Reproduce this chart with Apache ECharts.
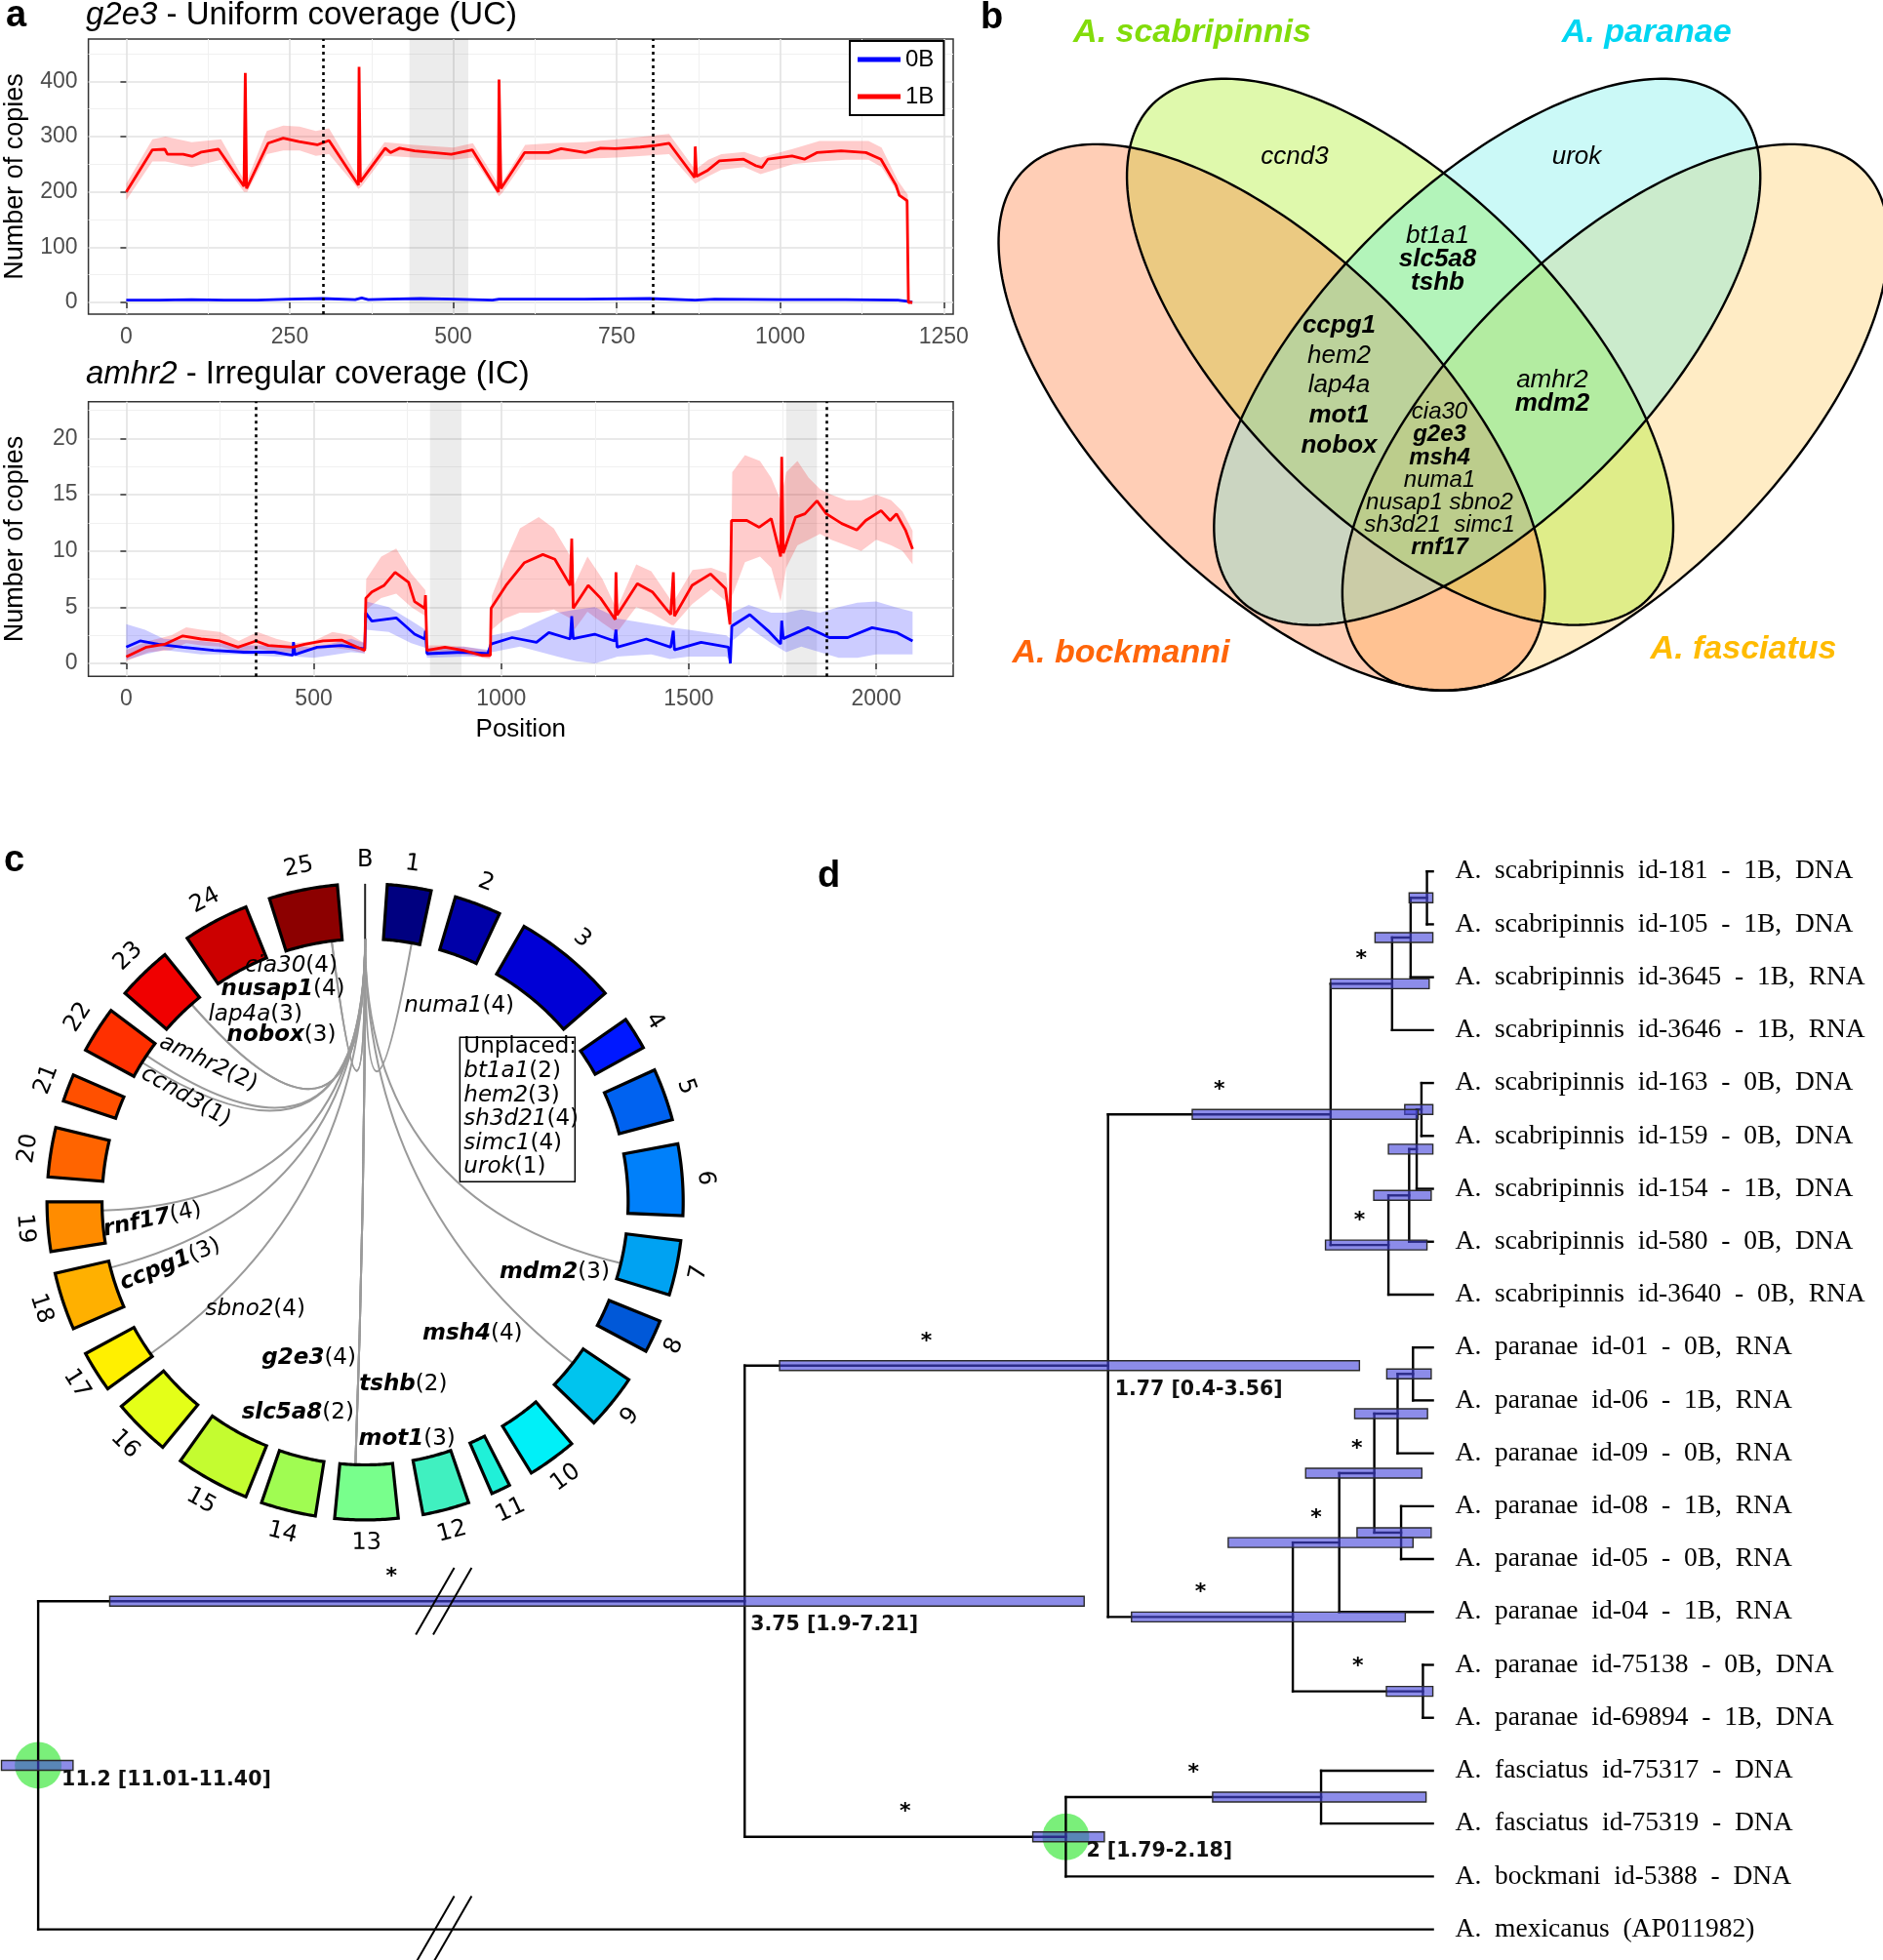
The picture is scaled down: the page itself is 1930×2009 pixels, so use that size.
<!DOCTYPE html>
<html><head><meta charset="utf-8">
<script src="https://cdn.jsdelivr.net/npm/echarts@6/dist/echarts.min.js"></script>
<style>html,body{margin:0;padding:0;background:#fff}#chart{width:1930px;height:2009px}</style>
</head><body><div id="chart"></div>
<script>
// ===================== DATA =====================
// ---- panel a (top): g2e3 coverage
const topTitleGene = 'g2e3', topTitleRest = ' - Uniform coverage (UC)';
const topXTicks = [0, 250, 500, 750, 1000, 1250];
const topYTicks = [0, 100, 200, 300, 400];
const topDotted = [301, 806];
const topShade = [[433, 523]];
const top0B = [[0,4],[50,4],[100,5],[150,4],[200,4],[250,6],[300,7],[350,5],[360,8],[370,5],[400,6],[450,7],[500,6],[560,4],[570,6],[600,6],[700,6],[800,7],[870,4],[900,6],[1000,5],[1100,5],[1180,4],[1195,2],[1202,0]];
const top1B = [[0,200],[40,276],[59,277],[63,268],[87,268],[101,264],[115,272],[141,277],[180,210],[182,415],[184,206],[217,288],[240,297],[264,291],[292,285],[310,293],[355,212],[356,426],[358,218],[396,279],[404,271],[418,279],[441,274],[497,268],[529,276],[569,200],[570,403],[573,206],[609,271],[646,271],[665,278],[702,271],[725,279],[748,278],[786,281],[809,284],[830,288],[869,226],[870,282],[872,228],[888,238],[907,256],[944,259],[963,247],[972,244],[981,259],[1018,265],[1037,259],[1056,271],[1093,274],[1131,271],[1154,259],[1177,212],[1182,194],[1194,184],[1196,0],[1202,0]];
const topBandX  = [0,40,60,100,145,180,185,215,240,265,290,310,355,360,395,440,500,530,570,575,610,650,700,750,790,830,870,890,910,945,970,1020,1060,1100,1135,1155,1180,1195];
const topBandLo = [185,255,255,245,258,200,200,268,275,275,265,268,205,210,265,262,258,262,192,198,258,258,260,262,265,268,215,228,240,245,232,250,255,258,258,245,198,175];
const topBandHi = [215,295,300,290,295,222,222,310,320,318,310,315,225,232,290,285,280,288,212,218,285,288,290,295,300,305,240,258,268,272,262,278,292,292,292,280,220,195];

// ---- panel a (bottom): amhr2 coverage
const botTitleGene = 'amhr2', botTitleRest = ' - Irregular coverage (IC)';
const botXTicks = [0, 500, 1000, 1500, 2000];
const botYTicks = [0, 5, 10, 15, 20];
const botDotted = [346, 1868];
const botShade = [[810, 894], [1760, 1842]];
const bot1B = [[0,0.58],[54,1.45],[102,1.7],[151,2.45],[200,2.17],[249,2.0],[298,1.45],[346,2.0],[379,1.6],[444,1.45],[476,1.7],[525,2.0],[574,2.08],[615,1.45],[636,1.16],[639,5.8],[655,6.36],[688,6.94],[717,8.1],[753,7.2],[769,5.5],[796,4.9],[798,6.07],[802,1.16],[850,1.45],[899,1.16],[948,0.72],[971,0.72],[973,4.9],[1013,6.94],[1062,8.96],[1111,9.68],[1143,9.25],[1184,6.94],[1188,11.1],[1192,4.9],[1232,6.94],[1265,5.8],[1304,3.9],[1306,8.1],[1309,4.3],[1363,7.08],[1403,6.36],[1452,4.34],[1459,8.1],[1462,4.2],[1509,6.94],[1558,7.95],[1598,6.65],[1610,3.47],[1614,12.7],[1655,12.7],[1688,12.1],[1720,12.86],[1745,9.5],[1748,18.35],[1752,9.8],[1785,13.0],[1810,13.3],[1842,14.45],[1867,13.3],[1908,12.43],[1948,11.85],[1972,12.7],[2013,13.58],[2037,12.7],[2054,13.3],[2078,11.85],[2097,10.17]];
const bot0B = [[0,1.45],[37,2.0],[86,1.7],[151,1.45],[233,1.16],[314,1.0],[395,1.0],[444,0.72],[446,1.9],[450,0.8],[509,1.45],[574,1.6],[636,1.3],[639,4.48],[655,3.76],[720,4.05],[769,2.6],[796,2.17],[798,2.9],[802,0.87],[899,1.0],[964,0.87],[973,1.73],[1029,2.3],[1094,1.88],[1127,2.75],[1184,2.17],[1188,4.2],[1192,2.2],[1249,2.6],[1302,2.0],[1306,3.0],[1309,1.45],[1387,2.17],[1452,1.45],[1459,2.9],[1462,1.2],[1533,1.88],[1606,1.45],[1611,0],[1615,3.32],[1663,4.34],[1712,2.9],[1745,1.73],[1748,3.8],[1752,2.2],[1818,3.18],[1875,2.3],[1924,2.3],[1989,3.18],[2054,2.75],[2097,2.0]];
const botRedBandX  = [0,60,120,160,200,250,300,350,400,450,500,550,600,636,640,680,720,760,798,802,850,900,970,975,1010,1050,1100,1140,1185,1195,1230,1270,1305,1310,1360,1400,1455,1460,1510,1560,1600,1612,1616,1650,1690,1720,1745,1760,1790,1820,1850,1880,1920,1960,2000,2040,2070,2097];
const botRedBandLo = [0.2,1.0,1.2,1.8,1.6,1.5,1.0,1.3,1.0,1.0,1.2,1.4,1.2,0.9,4.8,5.8,6.2,5.0,4.2,0.7,1.0,0.8,0.4,3.0,4.0,4.5,4.5,4.8,4.0,3.0,4.6,3.6,2.8,2.8,5.0,4.5,3.4,3.4,5.3,6.6,5.5,2.5,6.0,9.0,9.5,8.5,5.5,8.5,10.5,11.0,11.5,11.0,10.5,10.0,11.0,10.5,10.0,8.8];
const botRedBandHi = [1.2,2.0,2.5,3.2,3.0,2.8,2.0,2.8,2.2,1.8,2.0,2.8,2.5,1.8,7.5,9.5,10.2,8.0,6.5,1.6,1.6,1.5,1.1,6.0,9.0,12.0,13.0,12.0,9.5,7.0,9.5,7.5,5.0,5.0,8.8,8.2,5.5,5.5,8.3,8.5,8.0,4.5,17.0,18.5,18.0,16.5,14.5,17.0,18.0,16.5,15.5,15.0,14.5,14.5,15.0,14.5,13.5,11.8];
const botBlueBandX  = [0,50,100,200,300,400,450,500,600,636,640,700,760,798,802,900,970,975,1050,1150,1200,1250,1300,1310,1400,1450,1500,1600,1612,1616,1660,1720,1760,1800,1850,1900,1950,2000,2050,2097];
const botBlueBandLo = [0.3,0.8,1.2,0.8,0.8,0.6,0.6,0.5,1.0,0.9,3.0,2.8,1.8,1.4,0.5,0.6,0.6,1.0,1.5,0.6,0.2,0.0,0.5,0.6,0.8,0.4,0.6,0.6,0.2,2.0,3.2,1.8,1.0,1.5,1.0,0.5,0.5,0.8,0.8,0.8];
const botBlueBandHi = [3.5,3.0,2.2,2.0,1.6,1.6,1.6,1.4,2.2,1.8,5.5,5.0,3.8,3.0,1.4,1.5,1.2,2.5,3.0,4.5,4.8,5.0,4.2,4.0,3.5,3.2,3.0,2.5,2.2,4.5,5.2,4.5,4.5,4.8,4.5,5.0,5.4,5.5,5.0,4.6];

// ---- panel b: Venn
const vennSets = ['A. bockmanni', 'A. scabripinnis', 'A. paranae', 'A. fasciatus'];
const vennRegionGenes = [
  [['ccnd3',0]],
  [['urok',0]],
  [['bt1a1',0],['slc5a8',1],['tshb',1]],
  [['ccpg1',1],['hem2',0],['lap4a',0],['mot1',1],['nobox',1]],
  [['amhr2',0],['mdm2',1]],
  [['cia30',0],['g2e3',1],['msh4',1],['numa1',0],['nusap1 sbno2',0],['sh3d21  simc1',0],['rnf17',1]]
];

// ---- panel c: circos
const chromNames = ['1','2','3','4','5','6','7','8','9','10','11','12','13','14','15','16','17','18','19','20','21','22','23','24','25'];
const chromStart = [4,16.5,30,55,65.5,79.5,97,112,124,139.5,153,161,174,189,202,219.5,234,246.5,261,274.5,288.5,298.5,311,326,342.5];
const chromEnd   = [12,25,49,61,75,92.5,107,118,134,148.5,156.5,169.5,185.5,199,215.5,230,241.5,257,270,283.5,293.5,307,321,338,355];
const linkGenes  = ['numa1','mdm2','msh4','g2e3','tshb','slc5a8','mot1','sbno2','ccpg1','rnf17','ccnd3','amhr2','lap4a','nobox','cia30','nusap1'];
const linkCounts = [4,3,4,4,2,2,3,4,3,4,1,2,3,3,4,4];
const linkChrom  = ['1','7','9','13','13','13','13','17','18','19','22','22','23','23','25','25'];
const linkPos    = [10.2,103.5,127.8,182.1,182.1,182.1,182.1,234.7,255.5,268.1,303.8,302,318.7,318.7,352.7,352.7];
const linkBold   = [0,1,1,1,1,1,1,0,1,1,0,0,0,1,0,1];
const unplacedGenes  = ['bt1a1','hem2','sh3d21','simc1','urok'];
const unplacedCounts = [2,3,4,4,1];

// ---- panel d: tree
const treeLeaves = [
  'A.  scabripinnis  id-181  -  1B,  DNA','A.  scabripinnis  id-105  -  1B,  DNA','A.  scabripinnis  id-3645  -  1B,  RNA',
  'A.  scabripinnis  id-3646  -  1B,  RNA','A.  scabripinnis  id-163  -  0B,  DNA','A.  scabripinnis  id-159  -  0B,  DNA',
  'A.  scabripinnis  id-154  -  1B,  DNA','A.  scabripinnis  id-580  -  0B,  DNA','A.  scabripinnis  id-3640  -  0B,  RNA',
  'A.  paranae  id-01  -  0B,  RNA','A.  paranae  id-06  -  1B,  RNA','A.  paranae  id-09  -  0B,  RNA','A.  paranae  id-08  -  1B,  RNA',
  'A.  paranae  id-05  -  0B,  RNA','A.  paranae  id-04  -  1B,  RNA','A.  paranae  id-75138  -  0B,  DNA','A.  paranae  id-69894  -  1B,  DNA',
  'A.  fasciatus  id-75317  -  DNA','A.  fasciatus  id-75319  -  DNA','A.  bockmani  id-5388  -  DNA','A.  mexicanus  (AP011982)'
];
// [id, children, age (Mya), hpdLow, hpdHigh, supported(*)]
const treeNodes = [
  ['n0',['L0','L1'],0.032,0,0.129,0],
  ['n1',['n0','L2'],0.121,0,0.315,0],
  ['scabA',['n1','L3'],0.222,0.02,0.557,1],
  ['n2a',['L4','L5'],0.062,0,0.153,0],
  ['n2',['n2a','L6'],0.088,0,0.242,0],
  ['n3',['n2','L7'],0.129,0.009,0.322,0],
  ['scabB',['n3','L8'],0.242,0.032,0.585,1],
  ['scab',['scabA','scabB'],0.557,0.08,1.311,1],
  ['p0',['L9','L10'],0.108,0.009,0.251,0],
  ['p1',['p0','L11'],0.192,0.029,0.426,0],
  ['p85',['L12','L13'],0.173,0.009,0.413,0],
  ['p2',['p1','p85'],0.319,0.06,0.693,1],
  ['parA',['p2','L14'],0.51,0.108,1.115,1],
  ['parB',['L15','L16'],0.054,0,0.253,1],
  ['par',['parA','parB'],0.763,0.15,1.642,1],
  ['scabpar',['scab','par'],1.77,0.4,3.56,1],
  ['fasc',['L17','L18'],0.609,0.037,1.2,1],
  ['fascbock',['fasc','L19'],2.0,1.79,2.18,1],
  ['ingroup',['scabpar','fascbock'],3.75,1.9,7.21,1],
  ['root',['ingroup','L20'],11.2,11.01,11.40,0]
];
const treeNodeLabels = {scabpar:'1.77 [0.4-3.56]', ingroup:'3.75 [1.9-7.21]', fascbock:'2 [1.79-2.18]', root:'11.2 [11.01-11.40]'};
const treeCalibrated = ['root', 'fascbock'];
const ROOT_ID = 'root';
const ROOT_BREAK = 3.6;   // Mya removed from the root branch by the // break
const BREAK_AGE = 5.39;   // where the // marks sit

// ===================== STYLE / LAYOUT =====================
const SANS = '"Liberation Sans", Arial, sans-serif';
const DJV = '"DejaVu Sans", sans-serif';
const SERIF = '"Liberation Serif", "Times New Roman", serif';
const mids = t => t.slice(0, -1).map((v, i) => (v + t[i + 1]) / 2);
const topXMinor = mids(topXTicks);
const topYMinor = mids(topYTicks).concat([450]);
const botXMinor = mids(botXTicks);
const botYMinor = mids(botYTicks).concat([22.5]);

const vennLayout = {centers: [[31.9,46.5],[46.2,39.2],[55.9,39.2],[70.2,46.5]], rot: [45,45,-45,-45], a: 39.0, b: 18.2};
const vennFill = ['rgba(255,127,63,0.38)','rgba(176,240,48,0.40)','rgba(64,232,224,0.27)','rgba(255,192,64,0.30)'];
const vennFillOrder = [3, 1, 0, 2];
const vennSetColor = ['#ff650a','#82dc0a','#00d6f2','#ffbb00'];
const vennSetPos = [[15.1,72.8],[23.04,3.7],[73.66,3.7],[84.46,72.4]];
const vennRegionPos = [[34.46,17.5],[65.87,17.5],[50.38,28.9],[39.4,42.96],[63.15,43.68],[50.6,53.5]];
const vennRegionLH = [28,28,24,30.6,23.7,23.2];
const vennRegionFS = [26,26,26,26,26,24];

const chromColors = ['#000080','#0000a8','#0000d6','#0018ff','#0062f0','#0080fa','#00a2f2','#0058d8','#00c4ee','#00f0f8','#20f0d8','#40f0c0','#78ff8c','#a0fc52','#c4fc30','#e4ff18','#fff000','#ffb000','#ff8c00','#ff6400','#ff5000','#ff3000','#f00000','#cc0000','#8c0000'];
const R_OUT = 0.994, R_IN = 0.822, R_LAB = 1.066;
const linkLabelLayout = [[0.680,25.6,0],[0.632,110.5,0],[0.532,140.9,0],[0.518,199.8,0],[0.583,168.2,0],[0.691,197.7,0],[0.753,170,0],[0.480,225.6,0],[0.640,252.2,22],[0.667,265.2,12],[0.649,300.4,-30],[0.654,311.5,-25],[0.678,329.6,0],[0.584,333.4,0],[0.773,342.6,0],[0.7125,338.9,0]];
const treeLabelOffset = {scabpar:[7,25], ingroup:[6,24], fascbock:[21,15], root:[24,15]};

// ===================== HELPERS =====================
const plainNum = v => String(v);
function bandSeries(xs, lo, hi, color, ax, z) {
  return {type:'custom', xAxisIndex:ax, yAxisIndex:ax, z:z, silent:true, clip:true,
    data:[[xs[0], lo[0]]],
    renderItem:function(p, api){
      const pts = [];
      for (let i = 0; i < xs.length; i++) pts.push(api.coord([xs[i], hi[i]]));
      for (let i = xs.length - 1; i >= 0; i--) pts.push(api.coord([xs[i], lo[i]]));
      return {type:'polygon', shape:{points:pts}, style:{fill:color}};
    }};
}
function majorX(g, min, max, ticks, margin) {
  return {type:'value', gridIndex:g, min:min, max:max, position:'bottom',
    axisLine:{show:false},
    axisTick:{show:true, length:6, lineStyle:{color:'#333', width:1.5}, customValues:ticks},
    axisLabel:{show:true, customValues:ticks, formatter:plainNum, color:'#4d4d4d', fontSize:23, fontFamily:SANS, margin:margin},
    splitLine:{show:true, lineStyle:{color:'#e2e2e2', width:1.6}}};
}
function minorAx(g, min, max, ticks, pos) {
  return {type:'value', gridIndex:g, min:min, max:max, position:pos,
    axisLine:{show:false}, axisTick:{show:false, customValues:ticks}, axisLabel:{show:false, customValues:ticks},
    splitLine:{show:true, lineStyle:{color:'#f0f0f0', width:1}}};
}
function majorY(g, min, max, ticks) {
  return {type:'value', gridIndex:g, min:min, max:max, position:'left',
    name:'Number of copies', nameLocation:'middle', nameGap:62, nameRotate:90,
    nameTextStyle:{fontSize:27, color:'#000', fontFamily:SANS},
    axisLine:{show:false},
    axisTick:{show:true, length:6, lineStyle:{color:'#333', width:1.5}, customValues:ticks},
    axisLabel:{show:true, customValues:ticks, formatter:plainNum, color:'#4d4d4d', fontSize:23, fontFamily:SANS, margin:11},
    splitLine:{show:true, lineStyle:{color:'#e2e2e2', width:1.6}}};
}
function markerSeries(ax, dotted, shade) {
  return {type:'line', xAxisIndex:ax, yAxisIndex:ax, data:[[dotted[0], 0]], showSymbol:false, symbol:'none',
    lineStyle:{opacity:0}, silent:true, z:1,
    markArea:{silent:true, itemStyle:{color:'rgba(0,0,0,0.075)'}, data:shade.map(s => [{xAxis:s[0]}, {xAxis:s[1]}])},
    markLine:{silent:true, symbol:'none', label:{show:false}, lineStyle:{type:[3,4], color:'#000', width:2.6},
      data:dotted.map(v => ({xAxis:v}))}};
}

// ---- Venn render
function renderVenn(params, api) {
  const kids = [];
  const ells = vennLayout.centers.map((c, i) => {
    const phi = vennLayout.rot[i] * Math.PI / 180, pts = [];
    for (let k = 0; k < 240; k++) {
      const t = k / 240 * 2 * Math.PI;
      const x = c[0] + vennLayout.a * Math.cos(t) * Math.cos(phi) - vennLayout.b * Math.sin(t) * Math.sin(phi);
      const y = c[1] + vennLayout.a * Math.cos(t) * Math.sin(phi) + vennLayout.b * Math.sin(t) * Math.cos(phi);
      pts.push(api.coord([x, y]));
    }
    return pts;
  });
  vennFillOrder.forEach(i => kids.push({type:'polygon', shape:{points:ells[i]}, style:{fill:vennFill[i]}}));
  ells.forEach(pts => kids.push({type:'polygon', shape:{points:pts}, style:{fill:'none', stroke:'#000', lineWidth:2.4}}));
  vennRegionGenes.forEach((genes, r) => {
    const p = api.coord(vennRegionPos[r]);
    const rich = {
      b:{fontStyle:'italic', fontWeight:'bold', fontSize:vennRegionFS[r], fontFamily:SANS, lineHeight:vennRegionLH[r], fill:'#000'},
      r:{fontStyle:'italic', fontWeight:'normal', fontSize:vennRegionFS[r], fontFamily:SANS, lineHeight:vennRegionLH[r], fill:'#000'}
    };
    const txt = genes.map(g => '{' + (g[1] ? 'b' : 'r') + '|' + g[0] + '}').join('\n');
    kids.push({type:'text', x:p[0], y:p[1], style:{text:txt, rich:rich, align:'center', verticalAlign:'middle'}, z2:5});
  });
  vennSets.forEach((s, i) => {
    const p = api.coord(vennSetPos[i]);
    kids.push({type:'text', x:p[0], y:p[1], style:{text:s, fill:vennSetColor[i], fontStyle:'italic', fontWeight:'bold', fontSize:34, fontFamily:SANS, align:'center', verticalAlign:'middle'}, z2:5});
  });
  return {type:'group', children:kids};
}

// ---- Circos render
function renderCircos(params, api) {
  const kids = [];
  for (let i = 0; i < chromNames.length; i++) {
    const s = chromStart[i], e = chromEnd[i], pts = [], n = 24;
    for (let k = 0; k <= n; k++) pts.push(api.coord([R_OUT, s + (e - s) * k / n]));
    for (let k = n; k >= 0; k--) pts.push(api.coord([R_IN, s + (e - s) * k / n]));
    kids.push({type:'polygon', shape:{points:pts}, style:{fill:chromColors[i], stroke:'#000', lineWidth:3.2, lineJoin:'miter'}, z2:2});
    const mid = (s + e) / 2, p = api.coord([R_LAB, mid]);
    const phi = (mid > 90 && mid < 270) ? mid - 180 : mid;
    kids.push({type:'text', x:p[0], y:p[1], rotation:-phi * Math.PI / 180,
      style:{text:chromNames[i], align:'center', verticalAlign:'middle', fontSize:24, fontFamily:DJV, fill:'#000'}, z2:3});
  }
  // B
  const b0 = api.coord([R_IN, 0]), b1 = api.coord([R_OUT, 0]), bl = api.coord([R_LAB, 0]);
  kids.push({type:'line', shape:{x1:b0[0], y1:b0[1], x2:b1[0], y2:b1[1]}, style:{stroke:'#222', lineWidth:2}, z2:2});
  kids.push({type:'text', x:bl[0], y:bl[1], style:{text:'B', align:'center', verticalAlign:'middle', fontSize:24, fontFamily:DJV, fill:'#000'}, z2:3});
  // links
  const c = api.coord([0, 0]);
  linkGenes.forEach((g, i) => {
    const p2 = api.coord([R_IN, linkPos[i]]);
    kids.push({type:'bezierCurve', shape:{x1:b0[0], y1:b0[1], x2:p2[0], y2:p2[1], cpx1:c[0], cpy1:c[1]},
      style:{stroke:'#9a9a9a', lineWidth:2, fill:'none'}, z2:1});
  });
  // link labels
  const rich = {
    gb:{fontStyle:'italic', fontWeight:'bold', fontSize:23, fontFamily:DJV, fill:'#000'},
    gi:{fontStyle:'italic', fontWeight:'normal', fontSize:23, fontFamily:DJV, fill:'#000'},
    n:{fontStyle:'normal', fontWeight:'normal', fontSize:23, fontFamily:DJV, fill:'#000'}
  };
  linkGenes.forEach((g, i) => {
    const L = linkLabelLayout[i], p = api.coord([L[0], L[1]]);
    kids.push({type:'text', x:p[0], y:p[1], rotation:L[2] * Math.PI / 180,
      style:{text:'{' + (linkBold[i] ? 'gb' : 'gi') + '|' + g + '}{n|(' + linkCounts[i] + ')}', rich:rich, align:'center', verticalAlign:'middle'}, z2:4});
  });
  return {type:'group', children:kids};
}

// ---- Tree render
function renderTree(params, api) {
  const kids = [], y = {}, age = {}, parent = {}, node = {};
  treeLeaves.forEach((_, i) => { y['L' + i] = i; age['L' + i] = 0; });
  treeNodes.forEach(n => {
    const id = n[0], ch = n[1];
    y[id] = (y[ch[0]] + y[ch[1]]) / 2;
    age[id] = n[2] - (id === ROOT_ID ? ROOT_BREAK : 0);
    ch.forEach(c => parent[c] = id);
    node[id] = n;
  });
  const P = (a, yy) => api.coord([a, yy]);
  const ln = (p, q, w) => ({type:'line', shape:{x1:p[0], y1:p[1], x2:q[0], y2:q[1]}, style:{stroke:'#000', lineWidth:w || 2.4, lineCap:'square'}, z2:2});
  treeCalibrated.forEach(id => {
    const p = P(age[id], y[id]);
    kids.push({type:'circle', shape:{cx:p[0], cy:p[1], r:24}, style:{fill:'rgba(0,225,0,0.52)'}, z2:1});
  });
  treeNodes.forEach(n => {
    const id = n[0], ch = n[1];
    const ys = ch.map(c => y[c]);
    kids.push(ln(P(age[id], Math.min.apply(null, ys)), P(age[id], Math.max.apply(null, ys))));
    ch.forEach(c => kids.push(ln(P(age[id], y[c]), P(age[c], y[c]))));
  });
  treeNodes.forEach(n => {
    const id = n[0], sh = (id === ROOT_ID ? ROOT_BREAK : 0);
    const a = P(n[3] - sh, y[id]), b = P(n[4] - sh, y[id]);
    const x0 = Math.min(a[0], b[0]), x1 = Math.max(a[0], b[0]);
    kids.push({type:'rect', shape:{x:x0, y:a[1] - 5, width:x1 - x0, height:10},
      style:{fill:'rgba(70,70,220,0.62)', stroke:'#2a2a2a', lineWidth:1.4}, z2:3});
  });
  // break marks on the two root branches
  node[ROOT_ID][1].forEach(c => {
    const p = P(BREAK_AGE, y[c]);
    [-8.9, 8.9].forEach(o => kids.push({type:'line', shape:{x1:p[0] + o + 19.7, y1:p[1] - 34.2, x2:p[0] + o - 19.7, y2:p[1] + 34.2},
      style:{stroke:'#000', lineWidth:2}, z2:4}));
  });
  // support stars
  treeNodes.forEach(n => {
    if (!n[5]) return;
    const id = n[0], pa = parent[id];
    const p = P((age[pa] + age[id]) / 2, y[id]);
    kids.push({type:'text', x:p[0], y:p[1] - 25, style:{text:'*', align:'center', verticalAlign:'middle', fontSize:22, fontWeight:'bold', fontFamily:DJV, fill:'#000'}, z2:5});
  });
  // node age labels
  Object.keys(treeNodeLabels).forEach(id => {
    const p = P(age[id], y[id]), o = treeLabelOffset[id];
    kids.push({type:'text', x:p[0] + o[0], y:p[1] + o[1], style:{text:treeNodeLabels[id], align:'left', verticalAlign:'middle', fontSize:20.5, fontWeight:'bold', fontFamily:DJV, fill:'#111'}, z2:5});
  });
  // tip labels
  treeLeaves.forEach((t, i) => {
    const p = P(0, i);
    kids.push({type:'text', x:p[0] + 23, y:p[1], style:{text:t, align:'left', verticalAlign:'middle', fontSize:27.5, fontFamily:SERIF, fill:'#000'}, z2:5});
  });
  return {type:'group', children:kids};
}

// ===================== OPTION =====================
const chart = echarts.init(document.getElementById('chart'), null, {renderer:'canvas', width:1930, height:2009});
const titleRich = {
  i:{fontStyle:'italic', fontWeight:'normal', fontSize:33, fontFamily:SANS, color:'#000'},
  n:{fontStyle:'normal', fontWeight:'normal', fontSize:33, fontFamily:SANS, color:'#000'}
};
const gridBase = {show:true, borderColor:'#333', borderWidth:1.5, backgroundColor:'#fff', containLabel:false, outerBoundsMode:'none'};
const unplacedText = ['{r|Unplaced:}'].concat(unplacedGenes.map((g, i) => '{i|' + g + '}{r|(' + unplacedCounts[i] + ')}')).join('\n');

const option = {
  animation:false,
  backgroundColor:'#fff',
  title:[
    {text:'{i|' + topTitleGene + '}{n|' + topTitleRest + '}', left:88, top:-1, padding:0, textStyle:{fontWeight:'normal', rich:titleRich}},
    {text:'{i|' + botTitleGene + '}{n|' + botTitleRest + '}', left:88, top:367, padding:0, textStyle:{fontWeight:'normal', rich:titleRich}}
  ],
  legend:{data:['0B','1B'], left:871, top:42, orient:'vertical', icon:'rect', itemWidth:44, itemHeight:5, itemGap:14,
    padding:[7,10,7,8], borderColor:'#000', borderWidth:2, backgroundColor:'#fff',
    textStyle:{fontSize:24, color:'#000', fontFamily:SANS}},
  grid:[
    Object.assign({left:90.6, top:40, width:886.4, height:282}, gridBase),
    Object.assign({left:90.6, top:411.7, width:886.4, height:281.6}, gridBase),
    {left:1010, top:0, width:920, height:920, show:false, outerBoundsMode:'none'},
    {left:0, top:893.2, width:1468.6, height:1084.4, show:false, outerBoundsMode:'none'}
  ],
  xAxis:[
    majorX(0, -57.9, 1264.5, topXTicks, 12),
    minorAx(0, -57.9, 1264.5, topXMinor, 'top'),
    Object.assign(majorX(1, -100.9, 2205.3, botXTicks, 12), {name:'Position', nameLocation:'middle', nameGap:42, nameTextStyle:{fontSize:26, color:'#000', fontFamily:SANS}}),
    minorAx(1, -100.9, 2205.3, botXMinor, 'top'),
    {type:'value', gridIndex:2, min:0, max:100, show:false},
    {type:'value', gridIndex:3, min:0, max:7.808, inverse:true, show:false}
  ],
  yAxis:[
    majorY(0, -21.2, 476.4, topYTicks),
    minorAx(0, -21.2, 476.4, topYMinor, 'right'),
    majorY(1, -1.15, 23.26, botYTicks),
    minorAx(1, -1.15, 23.26, botYMinor, 'right'),
    {type:'value', gridIndex:2, min:0, max:100, inverse:true, show:false},
    {type:'value', gridIndex:3, min:0, max:20, inverse:true, show:false}
  ],
  polar:[{center:[374.2, 1231.9], radius:328}],
  angleAxis:[{polarIndex:0, type:'value', min:0, max:360, startAngle:90, clockwise:true, show:false}],
  radiusAxis:[{polarIndex:0, type:'value', min:0, max:1, show:false}],
  series:[
    markerSeries(0, topDotted, topShade),
    bandSeries(topBandX, topBandLo, topBandHi, 'rgba(255,0,0,0.2)', 0, 2),
    {type:'line', name:'0B', xAxisIndex:0, yAxisIndex:0, data:top0B, showSymbol:false, symbol:'none', lineStyle:{color:'#0000ff', width:2.8}, itemStyle:{color:'#0000ff'}, z:3},
    {type:'line', name:'1B', xAxisIndex:0, yAxisIndex:0, data:top1B, showSymbol:false, symbol:'none', lineStyle:{color:'#ff0000', width:2.8}, itemStyle:{color:'#ff0000'}, z:4},
    markerSeries(2, botDotted, botShade),
    bandSeries(botRedBandX, botRedBandLo, botRedBandHi, 'rgba(255,0,0,0.2)', 2, 2),
    bandSeries(botBlueBandX, botBlueBandLo, botBlueBandHi, 'rgba(0,0,255,0.2)', 2, 2),
    {type:'line', name:'0B', xAxisIndex:2, yAxisIndex:2, data:bot0B, showSymbol:false, symbol:'none', lineStyle:{color:'#0000ff', width:2.8}, itemStyle:{color:'#0000ff'}, z:3},
    {type:'line', name:'1B', xAxisIndex:2, yAxisIndex:2, data:bot1B, showSymbol:false, symbol:'none', lineStyle:{color:'#ff0000', width:2.8}, itemStyle:{color:'#ff0000'}, z:4},
    {type:'custom', xAxisIndex:4, yAxisIndex:4, data:[[50,50]], renderItem:renderVenn, silent:true},
    {type:'custom', coordinateSystem:'polar', polarIndex:0, data:[[0.5, 0]], renderItem:renderCircos, silent:true},
    {type:'custom', xAxisIndex:5, yAxisIndex:5, data:[[0, 0]], renderItem:renderTree, silent:true}
  ],
  graphic:[
    {type:'text', left:6, top:-2, style:{text:'a', fontSize:38, fontWeight:'bold', fontFamily:SANS, fill:'#000'}},
    {type:'text', left:1005, top:0, style:{text:'b', fontSize:38, fontWeight:'bold', fontFamily:SANS, fill:'#000'}},
    {type:'text', left:4, top:864, style:{text:'c', fontSize:38, fontWeight:'bold', fontFamily:SANS, fill:'#000'}},
    {type:'text', left:838, top:880, style:{text:'d', fontSize:38, fontWeight:'bold', fontFamily:SANS, fill:'#000'}},
    {type:'group', left:470.6, top:1062, children:[
      {type:'rect', shape:{x:0, y:0, width:118, height:148}, style:{fill:'#fff', stroke:'#000', lineWidth:1.5}},
      {type:'text', x:4, y:-2, style:{text:unplacedText, rich:{
        r:{fontSize:23, fontFamily:DJV, fill:'#000', lineHeight:24.6},
        i:{fontSize:23, fontFamily:DJV, fontStyle:'italic', fill:'#000', lineHeight:24.6}}}}
    ]}
  ]
};
chart.setOption(option);
</script></body></html>
